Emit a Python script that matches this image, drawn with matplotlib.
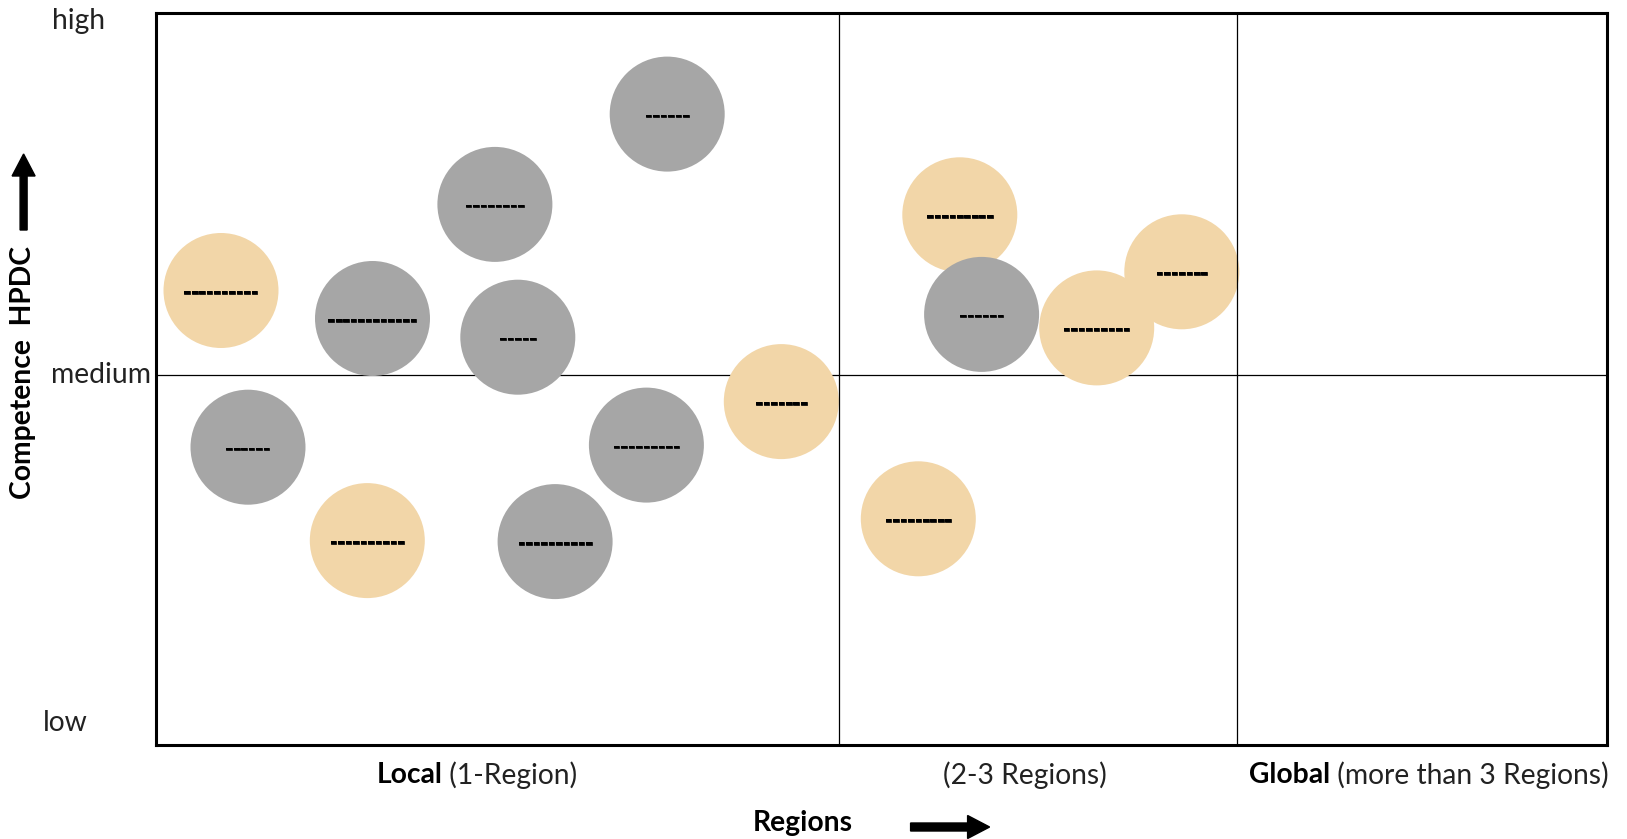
import matplotlib
matplotlib.use("Agg")
import matplotlib.pyplot as plt
from matplotlib.patches import Circle
import matplotlib.patheffects as pe

# ---- data (chart units: x = regional reach, y = HPDC competence) ----
x_max, y_max = 1451.4, 731.5
x_dividers = [683.8, 1081.2]
y_divider = 370.4

gray_x = [511.6, 339.3, 216.9, 362.2, 92.4, 490.8, 399.5, 826.0]
gray_y = [630.9, 540.6, 426.5, 407.8, 297.8, 299.9, 203.4, 430.6]
gray_dashes = [6, 8, 12, 5, 6, 9, 10, 6]

orange_x = [65.4, 211.7, 625.7, 804.2, 941.1, 1026.2, 762.7]
orange_y = [454.5, 204.4, 343.4, 530.2, 417.1, 473.2, 226.2]
orange_dashes = [10, 10, 7, 9, 9, 7, 9]

radius = 57.5

y_tick_labels = ["low", "medium", "high"]
x_labels_bold = ["Local", "", "Global"]
x_labels_rest = [" (1-Region)", "(2-3 Regions)", " (more than 3 Regions)"]

GRAY = "#A6A6A6"
ORANGE = "#F2D6A8"
FONT = "Lato"
FS = 20.3

fig = plt.figure(figsize=(16.27, 8.39), dpi=100)
ax = fig.add_axes([155.6 / 1627, (839 - 745) / 839, (1607 - 155.6) / 1627, 731.5 / 839])
ax.set_xlim(0, x_max)
ax.set_ylim(0, y_max)
ax.set_xticks([])
ax.set_yticks([])
for s in ax.spines.values():
    s.set_linewidth(2.2)
    s.set_color("black")

ax.axhline(y_divider, color="black", lw=0.9, zorder=1)
for xd in x_dividers:
    ax.axvline(xd, color="black", lw=0.9, zorder=4)

for xs, ys, ds, col in [(orange_x, orange_y, orange_dashes, ORANGE),
                        (gray_x, gray_y, gray_dashes, GRAY)]:
    for x, y, n in zip(xs, ys, ds):
        ax.add_patch(Circle((x, y), radius, facecolor=col, edgecolor="none", zorder=2))
        ax.text(x, y - 2, "-" * n, ha="center", va="center", fontsize=13,
                fontweight="bold", family="DejaVu Sans", color="black", zorder=3,
                path_effects=[pe.withStroke(linewidth=0.5, foreground="black")])

# y labels
ytick_pos = [(-90.6, 22.0), (-55.0, y_divider), (-77.6, 724.3)]
for (tx, ty), lab in zip(ytick_pos, y_tick_labels):
    ax.text(tx, ty, lab, ha="center", va="center", fontsize=FS, family=FONT,
            color="#222222", clip_on=False)

# x category labels
t1 = ax.text(221.0, -30, x_labels_bold[0], ha="left", va="center", fontsize=FS,
             family=FONT, fontweight="bold", clip_on=False)
ax.annotate(x_labels_rest[0], xy=(1, 0.5), xycoords=t1, ha="left", va="center",
            fontsize=FS, family=FONT, color="#222222")
ax.text(869.4, -30, x_labels_rest[1], ha="center", va="center", fontsize=FS,
        family=FONT, color="#222222", clip_on=False)
t3 = ax.text(1093.4, -30, x_labels_bold[2], ha="left", va="center", fontsize=FS,
             family=FONT, fontweight="bold", clip_on=False)
ax.annotate(x_labels_rest[2], xy=(1, 0.5), xycoords=t3, ha="left", va="center",
            fontsize=FS, family=FONT, color="#222222")

# axis titles
ax.text(647.4, -78, "Regions", ha="center", va="center", fontsize=FS,
        family=FONT, fontweight="bold", clip_on=False)
ax.arrow(755.0, -82, 79, 0, width=8, head_width=23, head_length=22,
         length_includes_head=True, color="black", clip_on=False)
ax.text(-132.6, 372, "Competence  HPDC", ha="center", va="center", rotation=90,
        fontsize=FS, family=FONT, fontweight="bold", clip_on=False)
ax.arrow(-132.0, 515, 0, 76, width=7, head_width=23, head_length=22,
         length_includes_head=True, color="black", clip_on=False)

fig.savefig("out.png", dpi=100)
